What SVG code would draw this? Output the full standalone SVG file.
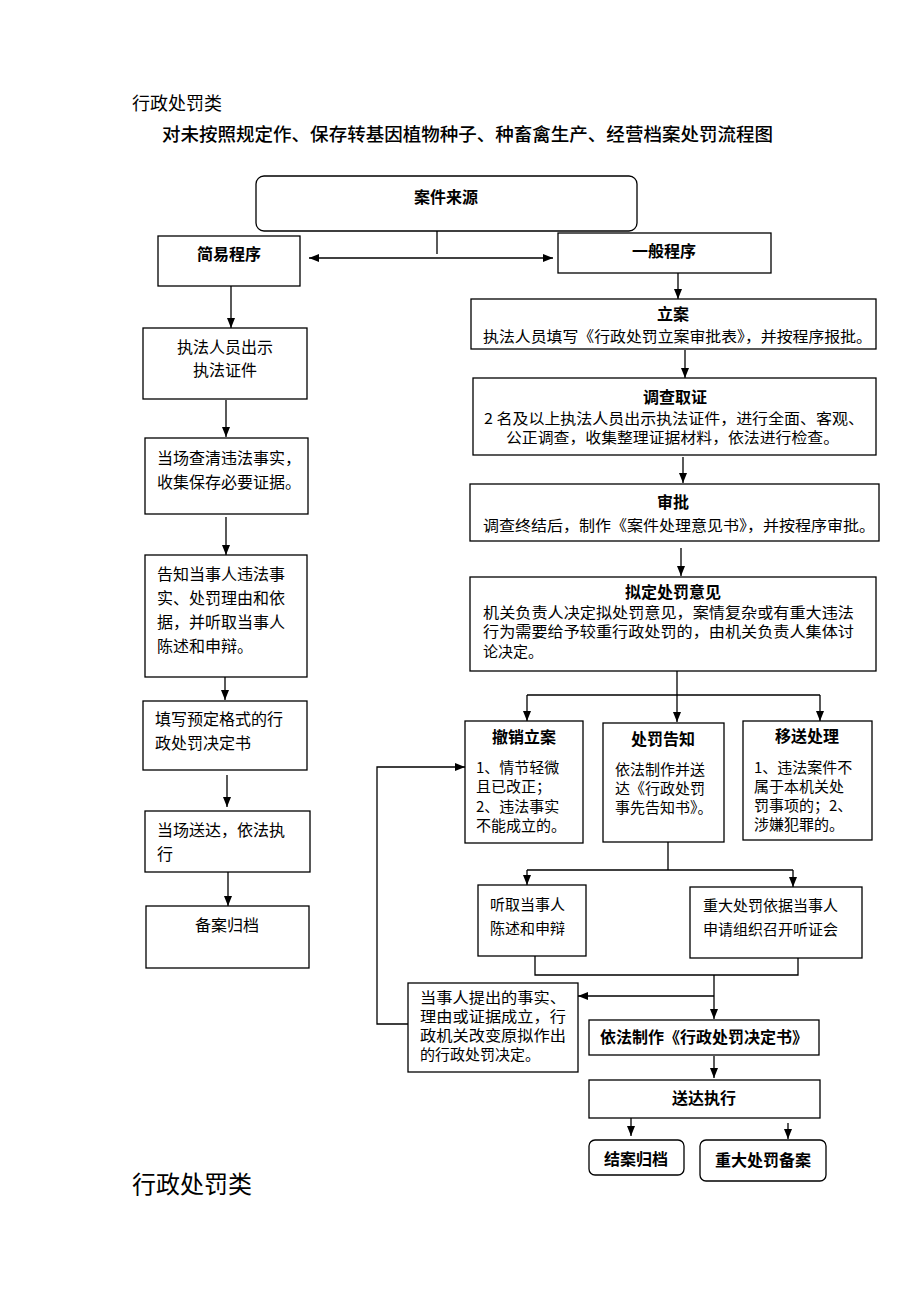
<svg xmlns="http://www.w3.org/2000/svg" width="920" height="1302" viewBox="0 0 920 1302">
<style>
text{font-family:"Noto Sans CJK SC","Liberation Sans",sans-serif;fill:#000}
.b{font-weight:bold}
.box{fill:#fff;stroke:#000;stroke-width:1.3}
.ln{fill:none;stroke:#000;stroke-width:1.3}
.t15{font-size:15px}
.t16{font-size:16px}
.h{font-size:16px;font-weight:bold}
</style>
<defs>
<marker id="ah" markerUnits="userSpaceOnUse" markerWidth="10" markerHeight="10" viewBox="0 0 10 10" refX="10" refY="5" orient="auto-start-reverse">
<path d="M0,1 L10,5 L0,9 z" fill="#000"/>
</marker>
</defs>
<rect width="920" height="1302" fill="#fff"/>
<text x="132" y="110" style="font-size:18px">行政处罚类</text>
<text x="162" y="141" style="font-size:18px;font-weight:500" textLength="611" lengthAdjust="spacingAndGlyphs">对未按照规定作、保存转基因植物种子、种畜禽生产、经营档案处罚流程图</text>
<text x="132" y="1193" style="font-size:24px">行政处罚类</text>

<g id="connectors">
<path class="ln" d="M437,210 V254"/>
<path class="ln" d="M309,258 H553" marker-start="url(#ah)" marker-end="url(#ah)"/>
<path class="ln" d="M231,286 V328" marker-end="url(#ah)"/>
<path class="ln" d="M226,400 V437" marker-end="url(#ah)"/>
<path class="ln" d="M226,517 V555" marker-end="url(#ah)"/>
<path class="ln" d="M225,677 V700" marker-end="url(#ah)"/>
<path class="ln" d="M227,775 V807" marker-end="url(#ah)"/>
<path class="ln" d="M228,870 V906" marker-end="url(#ah)"/>
<path class="ln" d="M678,273 V299" marker-end="url(#ah)"/>
<path class="ln" d="M685,350 V378" marker-end="url(#ah)"/>
<path class="ln" d="M683,457 V483" marker-end="url(#ah)"/>
<path class="ln" d="M681,548 V576" marker-end="url(#ah)"/>
<path class="ln" d="M677,671 V722" marker-end="url(#ah)"/>
<path class="ln" d="M527,695 H820"/>
<path class="ln" d="M527,695 V721" marker-end="url(#ah)"/>
<path class="ln" d="M820,695 V721" marker-end="url(#ah)"/>
<path class="ln" d="M668,842 V870"/>
<path class="ln" d="M527,870 H793"/>
<path class="ln" d="M527,870 V885" marker-end="url(#ah)"/>
<path class="ln" d="M793,870 V887" marker-end="url(#ah)"/>
<path class="ln" d="M535,956 V975 H798 V958"/>
<path class="ln" d="M714,975 V1019" marker-end="url(#ah)"/>
<path class="ln" d="M714,996 H578" marker-end="url(#ah)"/>
<path class="ln" d="M408,1024 H377 V767 H465" marker-end="url(#ah)"/>
<path class="ln" d="M714,1056 V1078" marker-end="url(#ah)"/>
<path class="ln" d="M631,1117 V1136" marker-end="url(#ah)"/>
<path class="ln" d="M788,1123 V1139" marker-end="url(#ah)"/>
</g>

<g id="n-source"><rect class="box" x="256" y="176" width="381" height="55" rx="8"/><text x="446" y="203" class="h" text-anchor="middle">案件来源</text></g>
<g id="n-simple"><rect class="box" x="158" y="236" width="142" height="50"/><text x="229" y="260" class="h" text-anchor="middle">简易程序</text></g>
<g id="n-general"><rect class="box" x="558" y="233" width="213" height="40"/><text x="664" y="257" class="h" text-anchor="middle">一般程序</text></g>

<g id="n-l1"><rect class="box" x="143" y="328" width="164" height="71"/><text class="t16" text-anchor="middle"><tspan x="225" y="353">执法人员出示</tspan><tspan x="225" y="376">执法证件</tspan></text></g>
<g id="n-l2"><rect class="box" x="145" y="438" width="163" height="76"/><text class="t16"><tspan x="157" y="464">当场查清违法事实，</tspan><tspan x="157" y="488">收集保存必要证据。</tspan></text></g>
<g id="n-l3"><rect class="box" x="145" y="555" width="162" height="122"/><text class="t16"><tspan x="157" y="580">告知当事人违法事</tspan><tspan x="157" y="604">实、处罚理由和依</tspan><tspan x="157" y="628">据，并听取当事人</tspan><tspan x="157" y="652">陈述和申辩。</tspan></text></g>
<g id="n-l4"><rect class="box" x="143" y="701" width="164" height="69"/><text class="t16"><tspan x="155" y="725">填写预定格式的行</tspan><tspan x="155" y="749">政处罚决定书</tspan></text></g>
<g id="n-l5"><rect class="box" x="145" y="811" width="165" height="61"/><text class="t16"><tspan x="157" y="836">当场送达，依法执</tspan><tspan x="157" y="860">行</tspan></text></g>
<g id="n-l6"><rect class="box" x="146" y="906" width="163" height="62"/><text class="t16" x="195" y="931">备案归档</text></g>

<g id="n-lian"><rect class="box" x="471" y="299" width="405" height="50"/><text x="673" y="320" class="h" text-anchor="middle">立案</text><text class="t15" x="483" y="342" textLength="389" lengthAdjust="spacingAndGlyphs">执法人员填写《行政处罚立案审批表》，并按程序报批。</text></g>
<g id="n-diaocha"><rect class="box" x="473" y="378" width="403" height="77"/><text x="675" y="403" class="h" text-anchor="middle">调查取证</text><text class="t15"><tspan x="484" y="424" textLength="380" lengthAdjust="spacingAndGlyphs">2 名及以上执法人员出示执法证件，进行全面、客观、</tspan><tspan x="506" y="443" textLength="333" lengthAdjust="spacingAndGlyphs">公正调查，收集整理证据材料，依法进行检查。</tspan></text></g>
<g id="n-shenpi"><rect class="box" x="470" y="484" width="409" height="57"/><text x="673" y="508" class="h" text-anchor="middle">审批</text><text class="t15" x="483" y="531" textLength="392" lengthAdjust="spacingAndGlyphs">调查终结后，制作《案件处理意见书》，并按程序审批。</text></g>
<g id="n-niding"><rect class="box" x="470" y="577" width="406" height="94"/><text x="673" y="598" class="h" text-anchor="middle">拟定处罚意见</text><text class="t15"><tspan x="483" y="618" textLength="371" lengthAdjust="spacingAndGlyphs">机关负责人决定拟处罚意见，案情复杂或有重大违法</tspan><tspan x="483" y="637" textLength="371" lengthAdjust="spacingAndGlyphs">行为需要给予较重行政处罚的，由机关负责人集体讨</tspan><tspan x="483" y="657">论决定。</tspan></text></g>

<g id="n-chexiao"><rect class="box" x="465" y="721" width="118" height="122"/><text x="524" y="743" class="h" text-anchor="middle">撤销立案</text><text class="t15"><tspan x="476" y="773">1、情节轻微</tspan><tspan x="476" y="792">且已改正；</tspan><tspan x="476" y="812">2、违法事实</tspan><tspan x="476" y="831">不能成立的。</tspan></text></g>
<g id="n-gaozhi"><rect class="box" x="603" y="723" width="121" height="119"/><text x="663" y="745" class="h" text-anchor="middle">处罚告知</text><text class="t15"><tspan x="615" y="775">依法制作并送</tspan><tspan x="615" y="794">达《行政处罚</tspan><tspan x="615" y="813">事先告知书》。</tspan></text></g>
<g id="n-yisong"><rect class="box" x="743" y="721" width="129" height="119"/><text x="807" y="742" class="h" text-anchor="middle">移送处理</text><text class="t15"><tspan x="754" y="773">1、违法案件不</tspan><tspan x="754" y="792">属于本机关处</tspan><tspan x="754" y="811">罚事项的；2、</tspan><tspan x="754" y="830">涉嫌犯罪的。</tspan></text></g>

<g id="n-tingqu"><rect class="box" x="478" y="885" width="108" height="71"/><text class="t15"><tspan x="490" y="910">听取当事人</tspan><tspan x="490" y="934">陈述和申辩</tspan></text></g>
<g id="n-zhongda"><rect class="box" x="690" y="887" width="172" height="71"/><text class="t15"><tspan x="703" y="911">重大处罚依据当事人</tspan><tspan x="703" y="935">申请组织召开听证会</tspan></text></g>
<g id="n-dangshiren"><rect class="box" x="408" y="983" width="170" height="89"/><text class="t15"><tspan x="420" y="1003" textLength="146" lengthAdjust="spacingAndGlyphs">当事人提出的事实、</tspan><tspan x="420" y="1022" textLength="146" lengthAdjust="spacingAndGlyphs">理由或证据成立，行</tspan><tspan x="420" y="1041" textLength="146" lengthAdjust="spacingAndGlyphs">政机关改变原拟作出</tspan><tspan x="420" y="1060">的行政处罚决定。</tspan></text></g>
<g id="n-jueding"><rect class="box" x="589" y="1020" width="230" height="35"/><text x="704" y="1043" class="h" text-anchor="middle">依法制作《行政处罚决定书》</text></g>
<g id="n-songda"><rect class="box" x="589" y="1080" width="231" height="38"/><text x="704" y="1104" class="h" text-anchor="middle">送达执行</text></g>
<g id="n-jiean"><rect class="box" x="589" y="1140" width="95" height="35" rx="6"/><text x="636" y="1165" class="h" text-anchor="middle">结案归档</text></g>
<g id="n-beian"><rect class="box" x="700" y="1140" width="126" height="41" rx="6"/><text x="763" y="1166" class="h" text-anchor="middle">重大处罚备案</text></g>
</svg>
